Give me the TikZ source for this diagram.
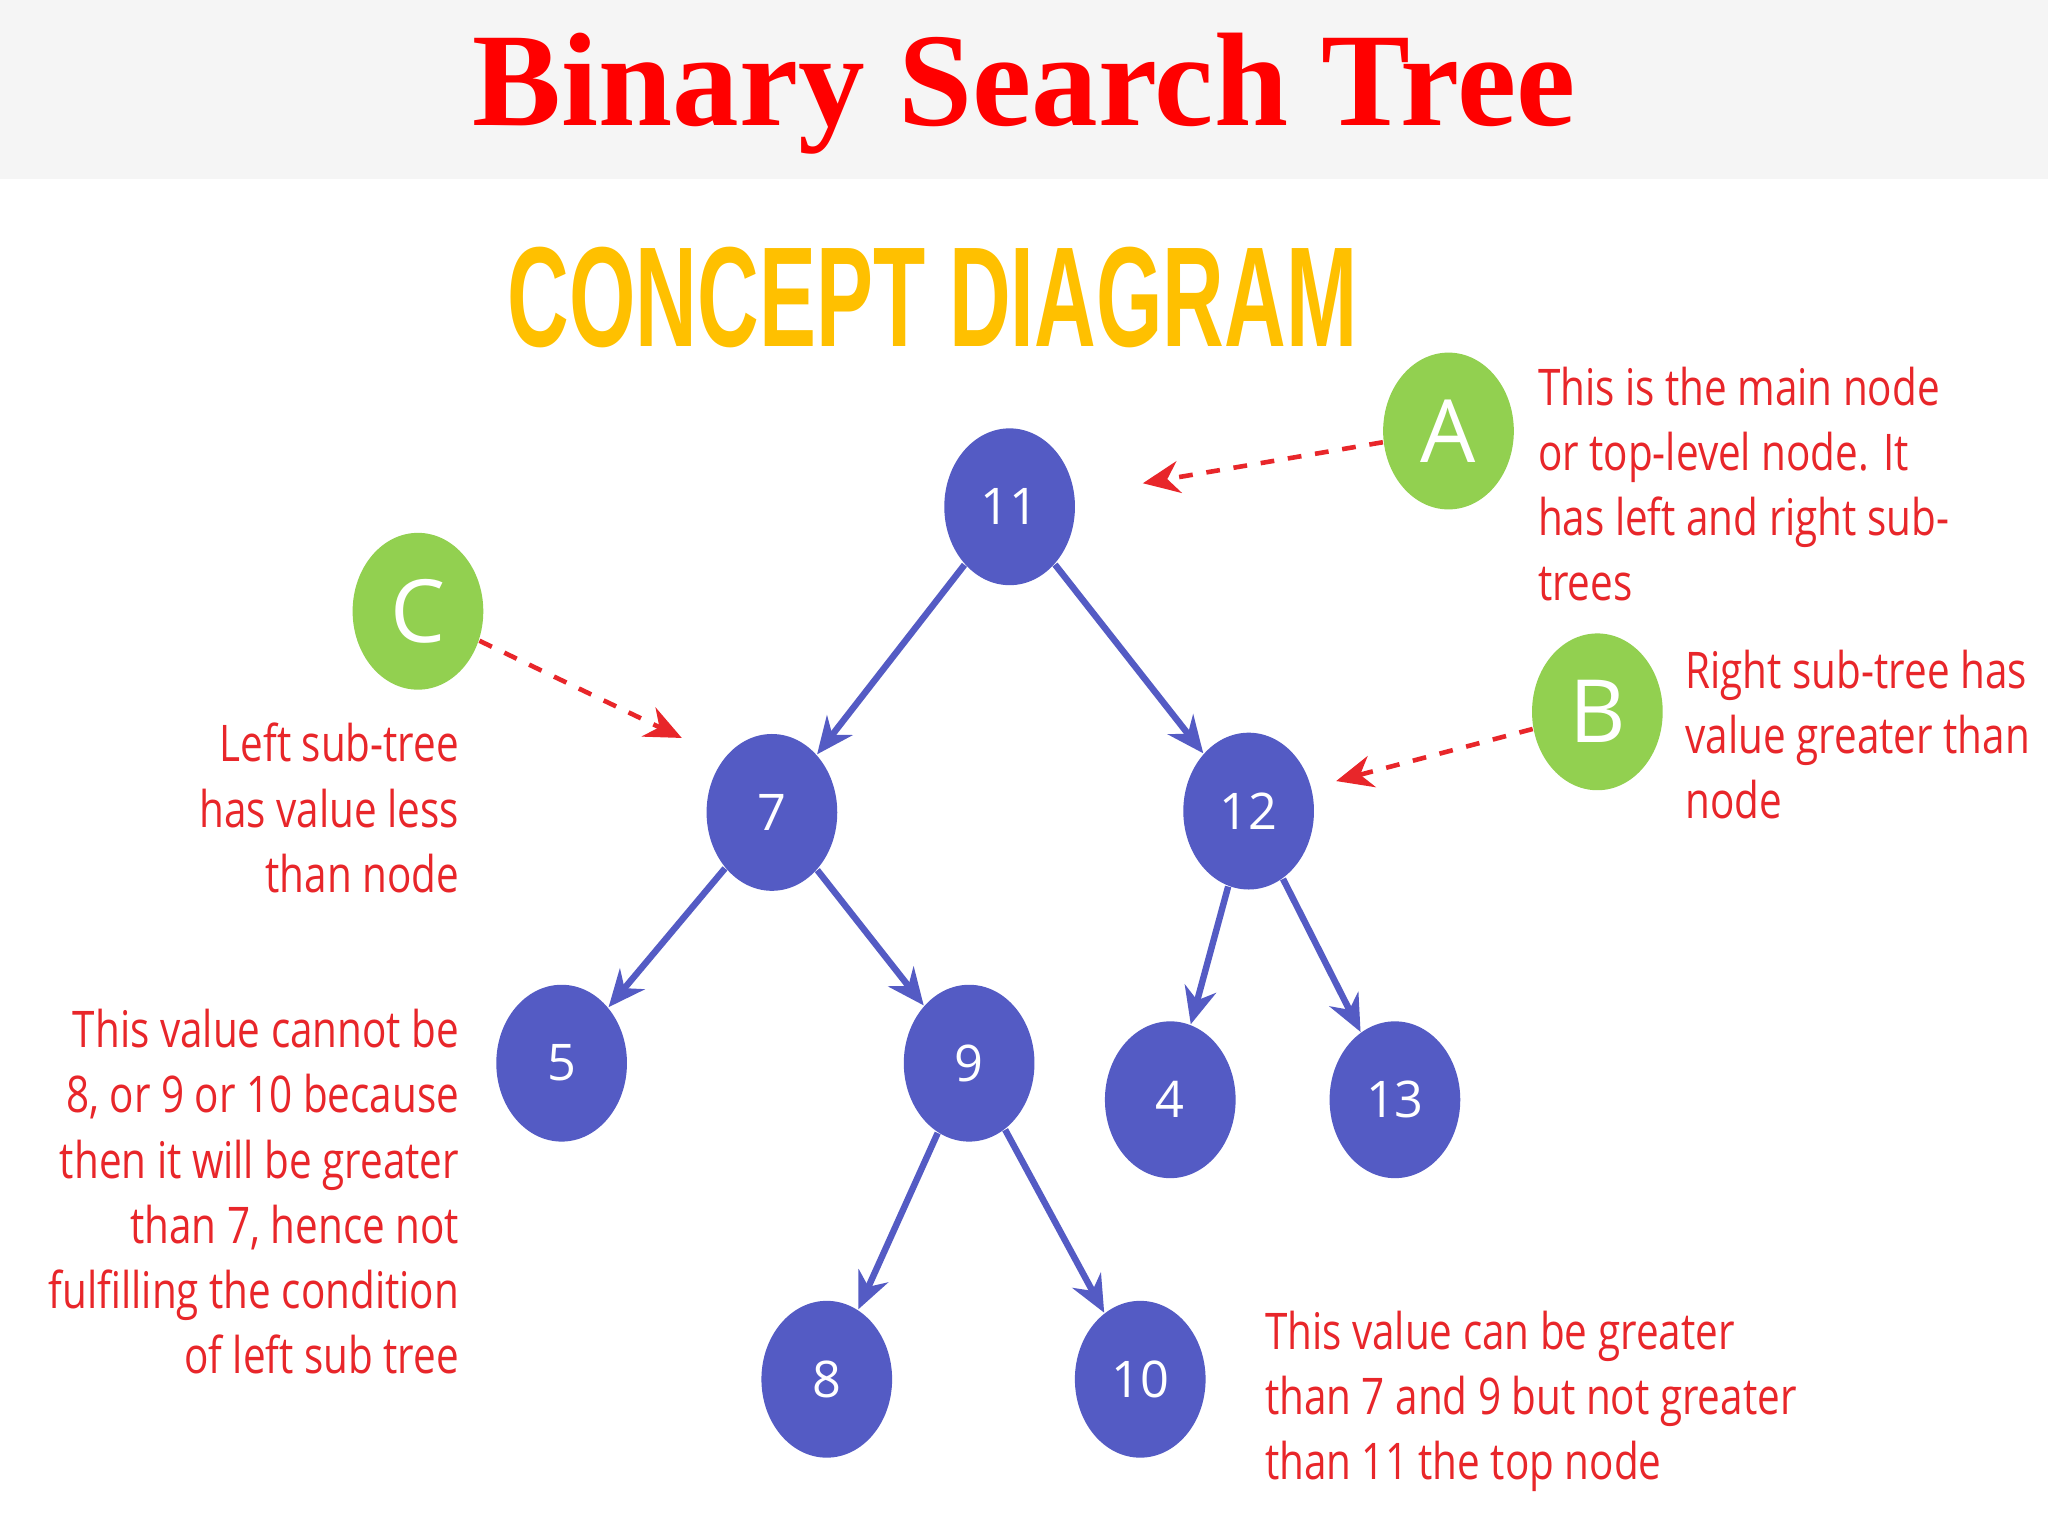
\documentclass[tikz,border=0pt]{standalone}
\usepackage{fontspec}
\setmainfont{Liberation Serif}
\newfontfamily\bodyf{Open Sans}
\newfontfamily\headf{Liberation Sans}
\usetikzlibrary{arrows.meta,shapes.geometric}
\definecolor{nb}{HTML}{545BC4}
\definecolor{ng}{HTML}{92D050}
\definecolor{tr}{HTML}{E8262A}
\definecolor{ty}{HTML}{FFC000}
\tikzset{
 bn/.style={ellipse,fill=nb,minimum width=1cm,minimum height=1.2cm,inner sep=0,text=white,font=\bodyf\fontsize{11}{13}\selectfont},
 gn/.style={ellipse,fill=ng,minimum width=1cm,minimum height=1.2cm,inner sep=0,text=white,font=\bodyf\fontsize{19}{22}\selectfont},
 edge/.style={draw=nb,line width=1.4pt,-{Stealth[length=8pt,width=7pt]}},
 dasharrow/.style={draw=tr,line width=1pt,dashed,-{Stealth[length=8pt,width=7pt]}},
 note/.style={text=tr,font=\bodyf\fontsize{11}{14.2}\selectfont,inner sep=0,xscale=0.8},
}
\begin{document}
\begin{tikzpicture}[x=0.01cm,y=-0.01cm]
\useasboundingbox (0,0) rectangle (1568,1176);
\fill[white] (0,0) rectangle (1568,1176);
\fill[gray!8] (0,0) rectangle (1568,137);
\node[text=red,font=\bfseries\fontsize{29}{32}\selectfont] (title) at (784,72) {Binary Search Tree};
\node[text=ty,font=\headf\bfseries\fontsize{31}{34}\selectfont,xscale=0.6] (cd) at (714,228) {CONCEPT DIAGRAM};
\node[bn] (n11) at (773,388) {11};
\node[bn] (n7) at (591,622) {7};
\node[bn] (n12) at (956,621) {12};
\node[bn] (n5) at (430,814) {5};
\node[bn] (n9) at (742,814) {9};
\node[bn] (n4) at (896,842) {4};
\node[bn] (n13) at (1068,842) {13};
\node[bn] (n8) at (633,1056) {8};
\node[bn] (n10) at (873,1056) {10};
\node[gn] (A) at (1109,330) {A};
\node[gn] (B) at (1223,545) {B};
\node[gn] (C) at (320,468) {C};
\draw[edge] (n11) -- (n7);
\draw[edge] (n11) -- (n12);
\draw[edge] (n7) -- (n5);
\draw[edge] (n7) -- (n9);
\draw[edge] (n12) -- (n4);
\draw[edge] (n12) -- (n13);
\draw[edge] (n9) -- (n8);
\draw[edge] (n9) -- (n10);
\coordinate (ea) at (875,370);
\coordinate (eb) at (1023,598);
\coordinate (ec) at (522,565);
\draw[dasharrow] (A) -- (ea);
\draw[dasharrow] (B) -- (eb);
\draw[dasharrow] (C) -- (ec);
\node[note,anchor=north west,align=left] (ta) at (1177,280) {This is the main node\\or top-level node. It\\has left and right sub-\\trees};
\node[note,anchor=north west,align=left] (tb) at (1290,497) {Right sub-tree has\\value greater than\\node};
\node[note,anchor=north east,align=right] (tc) at (352,553) {Left sub-tree\\has value less\\than node};
\node[note,anchor=north east,align=right] (td) at (352,772) {This value cannot be\\8, or 9 or 10 because\\then it will be greater\\than 7, hence not\\fulfilling the condition\\of left sub tree};
\node[note,anchor=north west,align=left] (te) at (968,1003) {This value can be greater\\than 7 and 9 but not greater\\than 11 the top node};
\end{tikzpicture}
\end{document}
